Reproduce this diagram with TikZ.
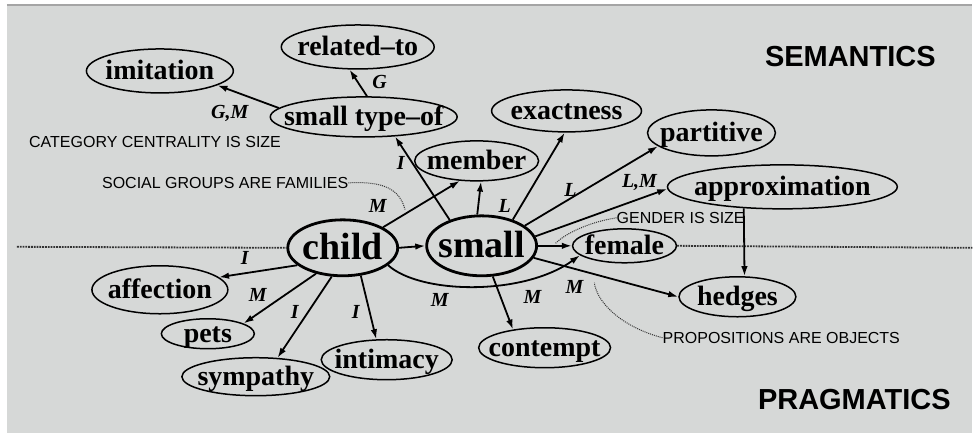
\documentclass[tikz,border=0pt]{standalone}
\usepackage{fontspec}
\setmainfont{Liberation Serif}
\setsansfont{Liberation Sans}
\usetikzlibrary{shapes.geometric,arrows.meta}
\newcommand\nt[1]{\makebox[0pt]{\raisebox{-0.32em}[0pt][0pt]{#1}}}
\definecolor{bggray}{RGB}{214,216,215}
\definecolor{edgegray}{RGB}{165,165,165}
\begin{document}
\begin{tikzpicture}[x=1pt,y=-1pt,
  ell/.style={ellipse,draw,line width=1.5pt,inner sep=0pt,font=\fontsize{28}{28}\selectfont\bfseries},
  big/.style={ell,line width=2.8pt,font=\fontsize{38}{38}\selectfont\bfseries},
  conn/.style={line width=1.8pt,-{Latex[length=10pt,width=6.5pt]}},
  lab/.style={font=\fontsize{20}{20}\selectfont\bfseries\itshape,inner sep=0pt},
  note/.style={font=\sffamily\fontsize{16}{16}\selectfont,inner sep=0pt,anchor=west,text=black},
  head/.style={font=\sffamily\bfseries\fontsize{29}{29}\selectfont,inner sep=0pt},
  hint/.style={densely dotted,line width=1pt,black!80},
  sep/.style={densely dotted,line width=1.8pt,black!80}
]
% background
\fill[white] (0,0) rectangle (973,433);
\fill[bggray] (7,5) rectangle (973,433);
\draw[edgegray,line width=1.5pt] (7,5) -- (973,5);
\useasboundingbox (0,0) rectangle (973,433);

% nodes
\node[ell,minimum width=153pt,minimum height=44pt] (relto) at (358,47) {\nt{related--to}};
\node[ell,minimum width=147pt,minimum height=44pt] (imit) at (160,71) {\nt{imitation}};
\node[ell,minimum width=187pt,minimum height=40pt] (stype) at (364,117) {\nt{small type--of}};
\node[ell,minimum width=124pt,minimum height=40pt] (member) at (477,161) {\nt{member}};
\node[ell,minimum width=150pt,minimum height=42pt] (exact) at (567,111) {\nt{exactness}};
\node[ell,minimum width=128pt,minimum height=46pt] (partit) at (712,133) {\nt{partitive}};
\node[ell,minimum width=230pt,minimum height=44pt] (approx) at (783,187) {\nt{approximation}};
\node[big,minimum width=110pt,minimum height=56pt] (child) at (343,248) {\nt{child}};
\node[big,minimum width=110pt,minimum height=60pt] (small) at (482,246) {\nt{small}};
\node[ell,minimum width=104pt,minimum height=34pt] (female) at (625,246) {\nt{female}};
\node[ell,minimum width=117pt,minimum height=40pt] (hedges) at (738,297) {\nt{hedges}};
\node[ell,minimum width=132pt,minimum height=40pt] (contempt) at (545,348) {\nt{contempt}};
\node[ell,minimum width=136pt,minimum height=48pt] (affect) at (160,290) {\nt{affection}};
\node[ell,minimum width=93pt,minimum height=30pt] (pets) at (208,334) {\nt{pets}};
\node[ell,minimum width=148pt,minimum height=38pt] (symp) at (256,377) {\nt{sympathy}};
\node[ell,minimum width=131pt,minimum height=40pt] (intim) at (387,360) {\nt{intimacy}};

% headings and notes
\node[head] (sem) at (851,57) {SEMANTICS};
\node[head] (prag) at (855,400) {PRAGMATICS};
\node[note] (cat) at (29,142) {CATEGORY CENTRALITY IS SIZE};
\node[note] (soc) at (102,183) {SOCIAL GROUPS ARE FAMILIES};
\node[note] (gen) at (617,218) {GENDER IS SIZE};
\node[note] (prop) at (663,338) {PROPOSITIONS ARE OBJECTS};

% separators
\coordinate (sepL) at (17,247);
\coordinate (sepR) at (973,248);
\draw[sep] (sepL) -- (child.west);
\draw[sep] (female.east) -- (sepR);

% connectors
\draw[conn] (stype.174) -- (imit.346);
\draw[conn] (stype.81) -- (relto.250);
\draw[conn] (child.east) -- (small.west);
\draw[conn] (child.27) -- (member.230) coordinate[pos=.3] (cmM);
\draw[conn] (small.141) -- (stype.328);
\draw[conn] (small.98) -- (member.282);
\draw[conn] (small.40) -- (exact.265);
\draw[conn] (small.25) -- (partit.194);
\draw[conn] (small.10) -- (approx.181);
\draw[conn] (small.east) -- (female.west) coordinate[pos=.45] (sfM);
\draw[conn] (child.339) .. controls +(32,29) and +(-57,41) .. (female.192);
\draw[conn] (small.347) -- (hedges.west) coordinate[pos=.41] (shM);
\draw[conn] (small.290) -- (contempt.150);
\draw[conn] (approx.209) -- (hedges.71);
\draw[conn] (child.201) -- (affect.12);
\draw[conn] (child.224) -- (pets.16);
\draw[conn] (child.249) -- (symp.41);
\draw[conn] (child.303) -- (intim.117);

% hints
\draw[hint,shorten >=4pt] (soc.east) .. controls (385,181) and (400,190) .. (cmM);
\draw[hint,shorten >=3pt] (gen.west) .. controls (590,222) and (565,234) .. (sfM);
\draw[hint,shorten >=9pt] (prop.west) .. controls (625,328) and (598,305) .. (shM);

% edge labels
\node[lab] (lGM) at (230,114) {G,M};
\node[lab] (lG) at (380,82) {G};
\node[lab] (lI1) at (401,163) {I};
\node[lab] (lM1) at (378,206) {M};
\node[lab] (lL1) at (505,206) {L};
\node[lab] (lL2) at (571,190) {L};
\node[lab] (lLM) at (640,183) {L,M};
\node[lab] (lI2) at (245,258) {I};
\node[lab] (lM2) at (258,295) {M};
\node[lab] (lI3) at (295,312) {I};
\node[lab] (lI4) at (356,312) {I};
\node[lab] (lM3) at (440,300) {M};
\node[lab] (lM4) at (533,297) {M};
\node[lab] (lM5) at (575,287) {M};
\end{tikzpicture}
\end{document}
